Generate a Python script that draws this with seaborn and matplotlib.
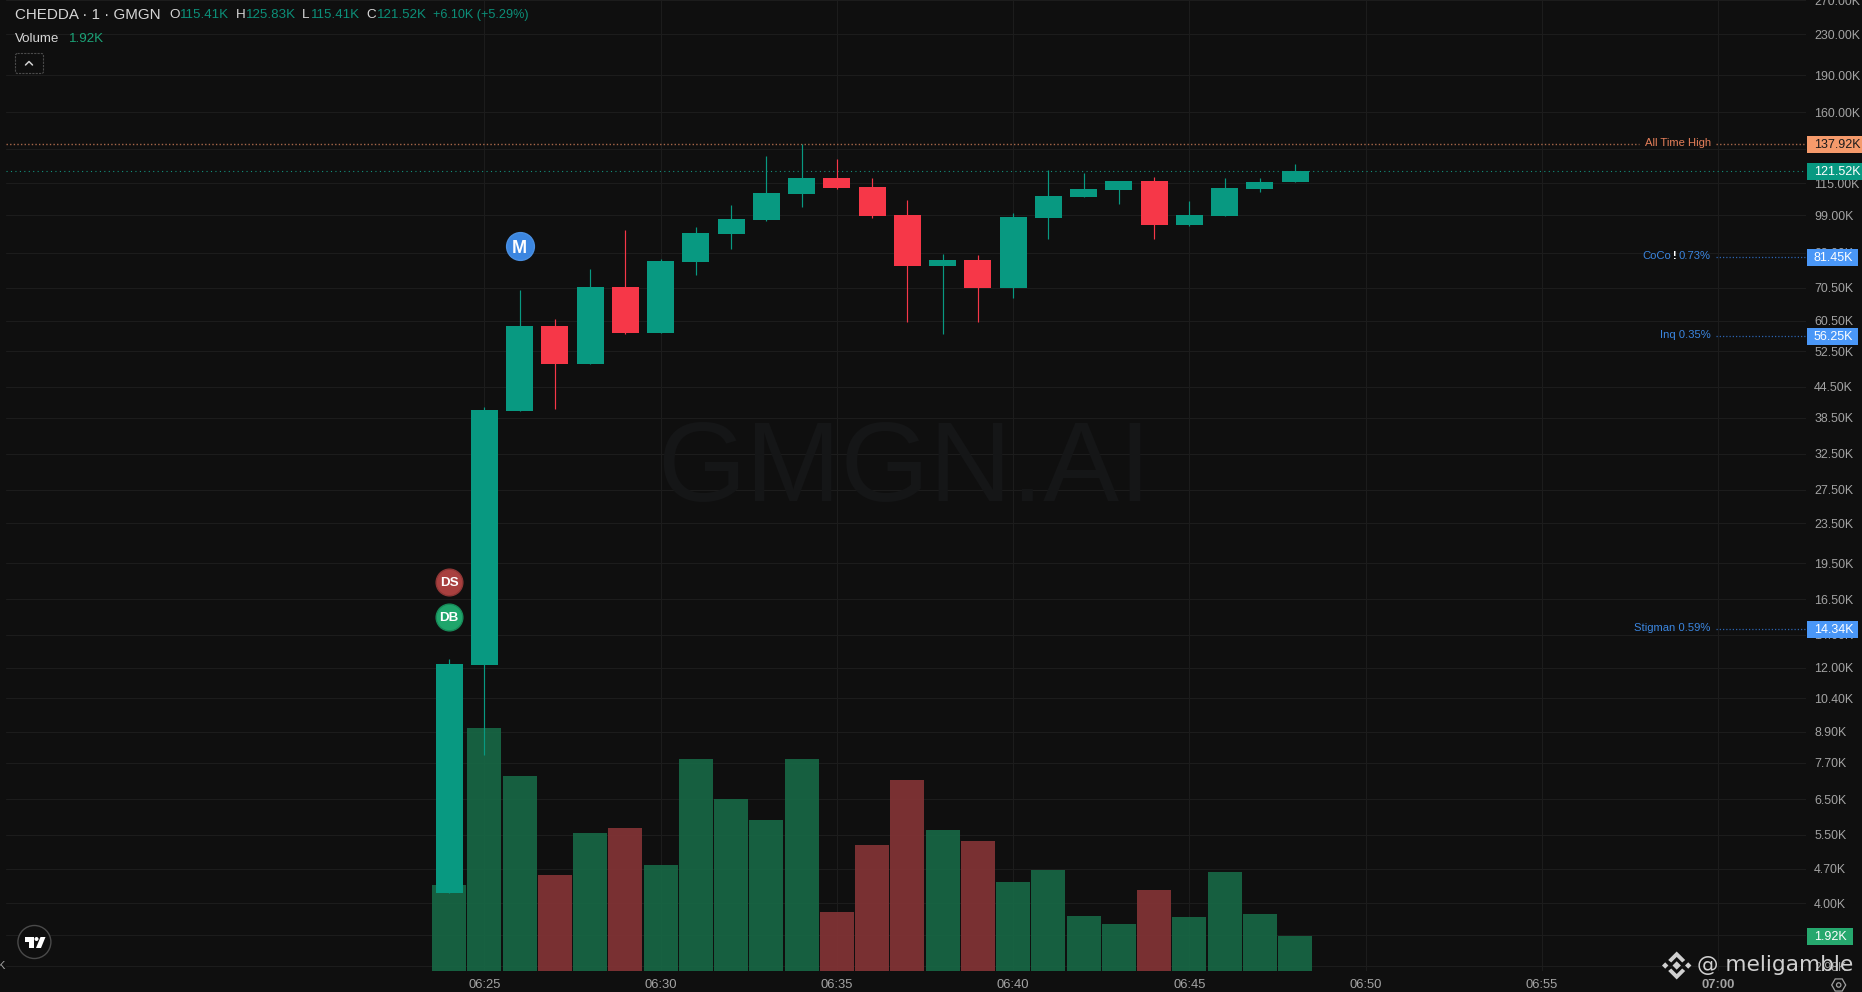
import numpy as np
import pandas as pd
import matplotlib
matplotlib.use("Agg")
import matplotlib.pyplot as plt
from matplotlib.patches import Circle, Rectangle, FancyBboxPatch, Polygon, RegularPolygon
from matplotlib.ticker import NullLocator
import seaborn as sns

# ---------- data ----------
minutes = list(range(24, 49))
opens  = [4.19, 12.15, 39.7, 58.9, 49.4, 70.9, 57.2, 79.7, 90.8, 96.9, 109.4, 117.9, 113.0,
          99.1, 77.9, 80.4, 70.6, 97.8, 107.9, 111.5, 116.3, 94.6, 98.7, 112.0, 115.41]
highs  = [12.49, 40.4, 69.9, 61.1, 77.1, 92.5, 80.8, 93.7, 103.9, 130.2, 137.92, 128.4, 117.9,
          106.4, 82.7, 82.3, 100.1, 122.4, 120.2, 116.3, 118.5, 105.9, 117.9, 117.9, 125.83]
lows   = [4.19, 7.99, 39.7, 40.1, 49.4, 56.9, 57.2, 74.7, 84.7, 96.4, 102.9, 112.0, 97.8,
          60.0, 56.9, 60.0, 67.1, 88.7, 107.9, 104.4, 88.7, 94.2, 98.7, 110.4, 115.41]
closes = [12.20, 39.9, 58.9, 49.4, 70.9, 57.2, 80.0, 91.2, 97.3, 109.9, 117.9, 112.5, 98.7,
          77.9, 80.4, 70.6, 98.2, 108.4, 112.0, 116.3, 94.6, 99.1, 112.5, 115.7, 121.52]
volumes = [4.74, 13.43, 10.77, 5.30, 7.62, 7.90, 5.85, 11.71, 9.50, 8.34, 11.71, 3.25, 6.95,
           10.55, 7.78, 7.18, 4.91, 5.57, 3.03, 2.58, 4.47, 2.97, 5.46, 3.14, 1.92]

price_ticks = [270, 230, 190, 160, 135, 115, 99, 83, 70.5, 60.5, 52.5, 44.5, 38.5, 32.5, 27.5,
               23.5, 19.5, 16.5, 14, 12, 10.4, 8.9, 7.7, 6.5, 5.5, 4.7, 4.0, 3.44, 2.98]
time_ticks = [25, 30, 35, 40, 45, 50, 55, 60]
time_labels = ["06:25", "06:30", "06:35", "06:40", "06:45", "06:50", "06:55", "07:00"]
ath_level, last_level = 137.92, 121.52
holder_levels = [81.45, 56.25, 14.34]

# ---------- colours ----------
BG = "#0F0F0F"; GRID = "#1C1C1C"
UP = "#089981"; DOWN = "#F63748"
VOL_UP = "#176946"; VOL_DOWN = "#853436"
TXT = "#A3A3A3"; BLUE = "#3B86E0"; TAGBLUE = "#4A97F7"

sns.set_theme(style="dark", rc={"axes.facecolor": BG, "figure.facecolor": BG})
plt.rcParams["font.family"] = ["Liberation Sans", "DejaVu Sans"]

W, H = 1862, 992
fig = plt.figure(figsize=(W / 100, H / 100), dpi=100, facecolor=BG)
L, R, B = 6, 1806, 970.7
rect = [L / W, 1 - B / H, (R - L) / W, B / H]

df = pd.DataFrame({"minute": minutes, "open": opens, "high": highs, "low": lows,
                   "close": closes, "volume": volumes})
df["side"] = np.where(df["close"] >= df["open"], "up", "down")

XLIM = (25 - 478.4 / 35.25, 25 + 1321.6 / 35.25)
YLIM = (2.919, 269.9)

# base axes: grid and scales
ax = fig.add_axes(rect, zorder=1, facecolor=BG)
ax.set_yscale("log")
ax.set_xlim(*XLIM); ax.set_ylim(*YLIM)
ax.set_yticks(price_ticks)
ax.set_yticklabels([f"{v:.2f}K" for v in price_ticks], fontsize=8.9, color=TXT, ha="left")
ax.yaxis.set_minor_locator(NullLocator())
ax.yaxis.tick_right()
ax.set_xticks(time_ticks)
ax.set_xticklabels(time_labels, fontsize=9.4, color=TXT)
ax.get_xticklabels()[-1].set_fontweight("bold")
ax.tick_params(axis="y", length=0, pad=5.8)
ax.tick_params(axis="x", length=0, pad=6.0)
ax.grid(True, color=GRID, lw=0.75)
for s in ax.spines.values():
    s.set_visible(False)

# watermark
fig.text(761 / W * 1862 / 1862 * 1.1875, 1 - 472 / H, "GMGN.AI", fontsize=82, color="#151617",
         ha="center", va="center", zorder=1.5)

# volume axes
axv = fig.add_axes(rect, zorder=2, facecolor="none")
sns.barplot(data=df, x="minute", y="volume", hue="side",
            palette={"up": VOL_UP, "down": VOL_DOWN}, native_scale=True, dodge=False,
            width=0.962, saturation=1, alpha=0.9, linewidth=0, legend=False, ax=axv)
axv.set_xlim(*XLIM); axv.set_ylim(0, 53.7)
axv.axis("off")

# candle axes
axc = fig.add_axes(rect, zorder=3, facecolor="none")
axc.set_yscale("log")
for _, r in df.iterrows():
    col = UP if r["side"] == "up" else DOWN
    axc.vlines(r["minute"], r["low"], r["high"], color=col, lw=0.85, zorder=3)
    lo, hi = sorted((r["open"], r["close"]))
    axc.bar(r["minute"], hi - lo, bottom=lo, width=0.766, color=col, linewidth=0, zorder=4)
axc.set_xlim(*XLIM); axc.set_ylim(*YLIM)
axc.axis("off")

def fx(px):
    return (px - L) / (R - L)

yt = axc.get_yaxis_transform()
dot = (0, (1.0, 1.6))
axc.plot([fx(6), fx(1639)], [ath_level] * 2, transform=yt, color="#A8674A", lw=1.0, ls=dot, zorder=2)
axc.plot([fx(1716), fx(1805)], [ath_level] * 2, transform=yt, color="#A8674A", lw=1.0, ls=dot, zorder=2)
axc.plot([fx(6), fx(1805)], [last_level] * 2, transform=yt, color="#14907C", lw=0.8, ls=(0, (1.0, 3.0)), zorder=2)
for v in holder_levels:
    axc.plot([fx(1716), fx(1805)], [v, v], transform=yt, color="#2C64B0", lw=0.9, ls=dot, zorder=2)

# event markers
for (mx, my, col, edge, lab, fs) in [(26, 85.5, BLUE, "#4A90E2", "M", 13.0),
                                     (24, 17.9, "#A8403F", "#8E3635", "DS", 9.6),
                                     (24, 15.2, "#1FA56B", "#178A58", "DB", 9.6)]:
    size = 400 if lab == "M" else 370
    axc.scatter([mx], [my], s=size, color=col, edgecolor=edge, linewidth=1, zorder=6)
    axc.text(mx, my, lab, color="white", fontsize=fs, fontweight="bold", ha="center",
             va="center_baseline", zorder=7)

# overlay in pixel space: legend text, tags, logos
ov = fig.add_axes([0, 0, 1, 1], zorder=5, facecolor="none")
ov.set_xlim(0, W); ov.set_ylim(H, 0); ov.axis("off")

def t(x, y, s, c=TXT, fs=9.0, ha="left", **kw):
    ov.text(x, y, s, color=c, fontsize=fs, ha=ha, va="center", **kw)

HEAD = "#D6D6D6"; NUM = "#0C8F79"
t(15, 15, "CHEDDA · 1 · GMGN", HEAD, 10.9)
for x, s in [(169, "O"), (236, "H"), (302, "L"), (366.5, "C")]:
    t(x, 15, s, HEAD, 9.7)
for x, s in [(180, "115.41K"), (246, "125.83K"), (311, "115.41K"), (377, "121.52K")]:
    t(x, 15, s, NUM, 9.6)
t(432.6, 15, "+6.10K (+5.29%)", NUM, 9.05)
t(15, 39, "Volume", HEAD, 9.6)
t(68.8, 39, "1.92K", "#1BA377", 9.6)
ov.add_patch(FancyBboxPatch((15.5, 53.5), 28, 20, boxstyle="round,pad=0,rounding_size=2",
                            fc="none", ec="#4A4A4A", lw=0.8, ls=(0, (2, 1))))
ov.plot([25.5, 29, 32.5], [65, 61.5, 65], color="#D0D0D0", lw=1.1)

# price tags
def tag(y0, y1, x1, col, s, tc):
    ov.add_patch(Rectangle((1807, y0), x1 - 1807, y1 - y0, fc=col, ec="none", zorder=3))
    ov.text(1814, (y0 + y1) / 2 + 0.5, s, color=tc, fontsize=9.0, va="center", zorder=4)

tag(136, 153, 1862, "#F59A6B", "137.92K", "#1A1A1A")
tag(163, 180, 1862, "#089981", "121.52K", "#FFFFFF")
tag(249, 266, 1858, TAGBLUE, "81.45K", "#FFFFFF")
tag(328, 345, 1858, TAGBLUE, "56.25K", "#FFFFFF")
tag(621, 638, 1858, TAGBLUE, "14.34K", "#FFFFFF")
tag(928, 945, 1853, "#26A86E", "1.92K", "#FFFFFF")

# level captions
t(1711, 143, "All Time High", "#E57F5A", 8.1, ha="right")
t(1642.7, 256, "CoCo", BLUE, 8.1)
t(1673, 256, "!", "#FFFFFF", 8.1, fontweight="bold")
t(1710.5, 256, "0.73%", BLUE, 8.1, ha="right")
t(1710.5, 335, "Inq 0.35%", BLUE, 8.1, ha="right")
t(1710.5, 628, "Stigman 0.59%", BLUE, 8.1, ha="right")

# tradingview logo
ov.add_patch(Circle((34.4, 942), 16.5, fc="#0F0F0F", ec="#4A4A4A", lw=1))
ov.add_patch(Polygon([(24.5, 937), (33.5, 937), (33.5, 948), (29, 948), (29, 941.5), (24.5, 941.5)], fc="white", ec="none"))
ov.add_patch(Circle((36.5, 939), 2, fc="white", ec="none"))
ov.add_patch(Polygon([(40.5, 937), (45.5, 937), (41, 948), (36, 948)], fc="white", ec="none"))

# cut off left-scale letter
t(-3, 966, "K", TXT, 8.0)

# binance watermark
mark = "#D0D0D0"
cx, cy = 1676.7, 965.5
def dia(x, y, r):
    ov.add_patch(Polygon([(x, y - r), (x + r, y), (x, y + r), (x - r, y)], fc=mark, ec="none", zorder=6))
dia(cx, cy, 4.2); dia(cx - 11.5, cy, 3.2); dia(cx + 11.5, cy, 3.2)
ov.add_patch(Polygon([(cx, cy - 14), (cx + 8.5, cy - 5.5), (cx + 5.5, cy - 3), (cx, cy - 8.5), (cx - 5.5, cy - 3), (cx - 8.5, cy - 5.5)], fc=mark, ec="none", zorder=6))
ov.add_patch(Polygon([(cx, cy + 14), (cx + 8.5, cy + 5.5), (cx + 5.5, cy + 3), (cx, cy + 8.5), (cx - 5.5, cy + 3), (cx - 8.5, cy + 5.5)], fc=mark, ec="none", zorder=6))
ov.text(1697, 965, "@ meligamble", color=mark, fontsize=15.6, family=["DejaVu Sans"], va="center", ha="left", zorder=6)

# settings icon
ov.add_patch(RegularPolygon((1838.7, 985), 6, radius=7, orientation=np.pi / 2, fc="none", ec="#A0A0A0", lw=0.9))
ov.add_patch(Circle((1838.7, 985), 2.2, fc="none", ec="#A0A0A0", lw=0.9))

fig.savefig("out.png", dpi=100, facecolor=BG)
